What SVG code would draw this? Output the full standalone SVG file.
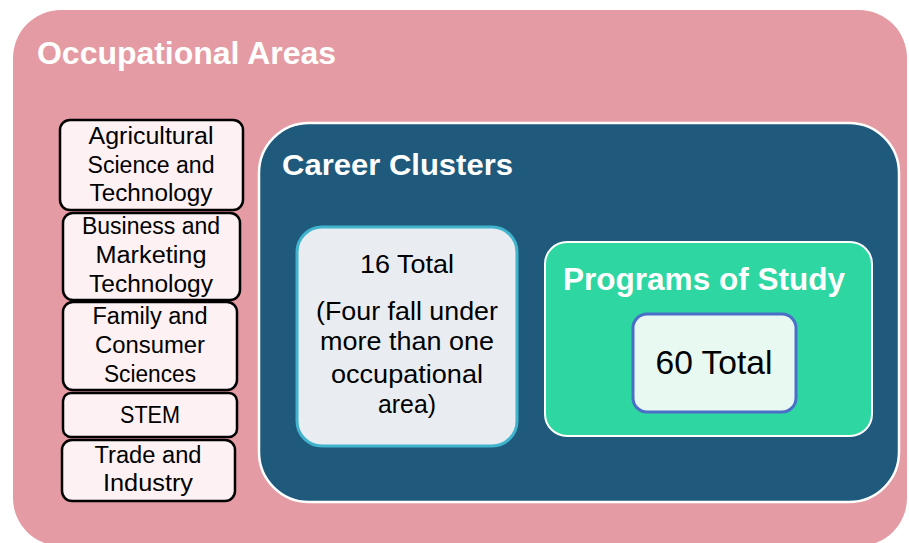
<svg xmlns="http://www.w3.org/2000/svg" width="909" height="543" viewBox="0 0 909 543">
<style>
.title{font-family:"Liberation Sans",Arial,sans-serif;font-weight:bold;fill:#ffffff;}
.body{font-family:"Liberation Sans",Arial,sans-serif;fill:#000000;text-anchor:middle;}
.area rect{fill:#FDF1F3;stroke:#000000;stroke-width:2.5;}
.area text{font-size:23.5px;}
.cl text{font-size:25px;}
</style>
<rect width="909" height="543" fill="#ffffff"/>
<g id="occupational-areas">
<rect x="13" y="10" width="894" height="536" rx="48" fill="#E49BA3"/>
<text class="title" x="37" y="64" font-size="31" textLength="299" lengthAdjust="spacingAndGlyphs">Occupational Areas</text>
</g>
<g id="area-agri" class="area">
<rect x="60" y="120" width="183" height="90" rx="10"/>
<text class="body" x="151" y="144" textLength="125" lengthAdjust="spacingAndGlyphs">Agricultural</text>
<text class="body" x="151" y="173" textLength="127" lengthAdjust="spacingAndGlyphs">Science and</text>
<text class="body" x="151" y="201" textLength="123" lengthAdjust="spacingAndGlyphs">Technology</text>
</g>
<g id="area-business" class="area">
<rect x="63" y="213" width="177" height="87" rx="10"/>
<text class="body" x="151" y="234" textLength="138" lengthAdjust="spacingAndGlyphs">Business and</text>
<text class="body" x="151" y="263" textLength="111" lengthAdjust="spacingAndGlyphs">Marketing</text>
<text class="body" x="151" y="292" textLength="124" lengthAdjust="spacingAndGlyphs">Technology</text>
</g>
<g id="area-family" class="area">
<rect x="63" y="302" width="174" height="88" rx="10"/>
<text class="body" x="150" y="324" textLength="115" lengthAdjust="spacingAndGlyphs">Family and</text>
<text class="body" x="150" y="353" textLength="110" lengthAdjust="spacingAndGlyphs">Consumer</text>
<text class="body" x="150" y="382" textLength="92" lengthAdjust="spacingAndGlyphs">Sciences</text>
</g>
<g id="area-stem" class="area">
<rect x="63" y="393" width="174" height="44" rx="8"/>
<text class="body" x="150" y="423" textLength="60" lengthAdjust="spacingAndGlyphs">STEM</text>
</g>
<g id="area-trade" class="area">
<rect x="62" y="440" width="173" height="61" rx="10"/>
<text class="body" x="148" y="463" textLength="107" lengthAdjust="spacingAndGlyphs">Trade and</text>
<text class="body" x="148" y="491" textLength="90" lengthAdjust="spacingAndGlyphs">Industry</text>
</g>
<g id="career-clusters">
<rect x="259" y="123" width="640" height="379" rx="50" fill="#1F5A7C" stroke="#ffffff" stroke-width="2.5"/>
<text class="title" x="282" y="175" font-size="30" textLength="231" lengthAdjust="spacingAndGlyphs">Career Clusters</text>
</g>
<g id="clusters-total" class="cl">
<rect x="297" y="227" width="220" height="219" rx="25" fill="#E9EDF2" stroke="#41B3CC" stroke-width="3"/>
<text class="body" x="407" y="273" textLength="94" lengthAdjust="spacingAndGlyphs">16 Total</text>
<text class="body" x="407" y="320" textLength="182" lengthAdjust="spacingAndGlyphs">(Four fall under</text>
<text class="body" x="407" y="350" textLength="174" lengthAdjust="spacingAndGlyphs">more than one</text>
<text class="body" x="407" y="383" textLength="152" lengthAdjust="spacingAndGlyphs">occupational</text>
<text class="body" x="407" y="413" textLength="58" lengthAdjust="spacingAndGlyphs">area)</text>
</g>
<g id="programs-of-study">
<rect x="545" y="242" width="327" height="194" rx="22" fill="#2ED6A2" stroke="#ffffff" stroke-width="2"/>
<text class="title" x="563" y="290" font-size="31" textLength="282" lengthAdjust="spacingAndGlyphs">Programs of Study</text>
</g>
<g id="programs-total">
<rect x="633" y="314" width="163" height="98" rx="14" fill="#E8F9F2" stroke="#4A6FC8" stroke-width="3"/>
<text class="body" x="714" y="374" font-size="33" textLength="117" lengthAdjust="spacingAndGlyphs">60 Total</text>
</g>
<g id="connectors"></g>
</svg>
